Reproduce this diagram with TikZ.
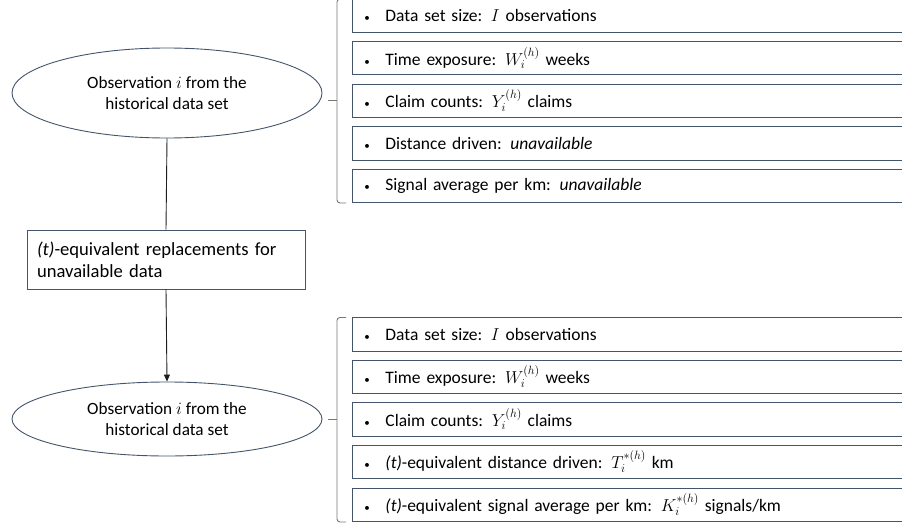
\documentclass[tikz,border=0pt]{standalone}
\usepackage{fontspec}
\setmainfont{Carlito}
\usetikzlibrary{arrows.meta,shapes.geometric}
\definecolor{boxc}{RGB}{68,84,106}
\definecolor{brc}{RGB}{120,120,120}
\definecolor{linec}{RGB}{30,30,30}
\newcommand{\bul}{\hspace*{12pt}\makebox[21pt][l]{\fontsize{11}{11}\selectfont •}}
\begin{document}
\begin{tikzpicture}[x=1pt,y=-1pt,
  item/.style={draw=boxc, line width=0.9pt, anchor=north west, minimum width=560pt,
    minimum height=33.5pt, inner xsep=0pt, inner ysep=0pt, text width=560pt, align=left,
    font=\fontsize{17.5}{20}\selectfont},
  obs/.style={draw=boxc, line width=0.9pt, ellipse, inner sep=0pt, align=center,
    font=\fontsize{17.2}{21}\selectfont},
  repl/.style={draw=boxc, line width=0.9pt, minimum width=278pt, minimum height=59pt,
    text width=258pt, inner xsep=10pt, align=left, font=\fontsize{18.6}{22}\selectfont},
  brace/.style={draw=brc, line width=0.9pt},
  conn/.style={draw=linec, line width=0.9pt}]
\useasboundingbox (0,0) rectangle (902,527);
\clip (0,0) rectangle (902,527);

% top group
\node[obs, minimum width=310pt, minimum height=90pt] (e1) at (167,93)
  {Observation $i$ from the\\historical data set};
\node[item] (a1) at (352,-1.5) {\bul Data set size: $I$ observations};
\node[item] (a2) at (352,41) {\bul Time exposure: $W_i^{(h)}$ weeks};
\node[item] (a3) at (352,83.5) {\bul Claim counts: $Y_i^{(h)}$ claims};
\node[item] (a4) at (352,126) {\bul Distance driven: \textit{unavailable}};
\node[item] (a5) at (352,168.5) {\bul Signal average per km: \textit{unavailable}};
\draw[brace, rounded corners=3pt] (346,-1) -- (337,-1) -- (337,203) -- (346,203);
\draw[brace] (328,100) -- (337,100);

% replacement box
\node[repl] (r) at (166,259.5) {\textit{(t)}-equivalent replacements for\\unavailable data};

% bottom group
\node[obs, minimum width=310pt, minimum height=74pt] (e2) at (167,419)
  {Observation $i$ from the\\historical data set};
\node[item] (b1) at (352,317) {\bul Data set size: $I$ observations};
\node[item] (b2) at (352,359.5) {\bul Time exposure: $W_i^{(h)}$ weeks};
\node[item] (b3) at (352,402) {\bul Claim counts: $Y_i^{(h)}$ claims};
\node[item] (b4) at (352,444.5) {\bul \textit{(t)}-equivalent distance driven: $T_i^{*(h)}$ km};
\node[item] (b5) at (352,487.5) {\bul \textit{(t)}-equivalent signal average per km: $K_i^{*(h)}$ signals/km};
\draw[brace, rounded corners=3pt] (346,317.5) -- (337,317.5) -- (337,522) -- (346,522);
\draw[brace] (328,419.5) -- (337,419.5);

% connectors
\draw[conn] (e1.south) -- (r.north);
\draw[conn, -{Triangle[length=7pt,width=6pt]}] (r.south) -- (e2.north);
\end{tikzpicture}
\end{document}
